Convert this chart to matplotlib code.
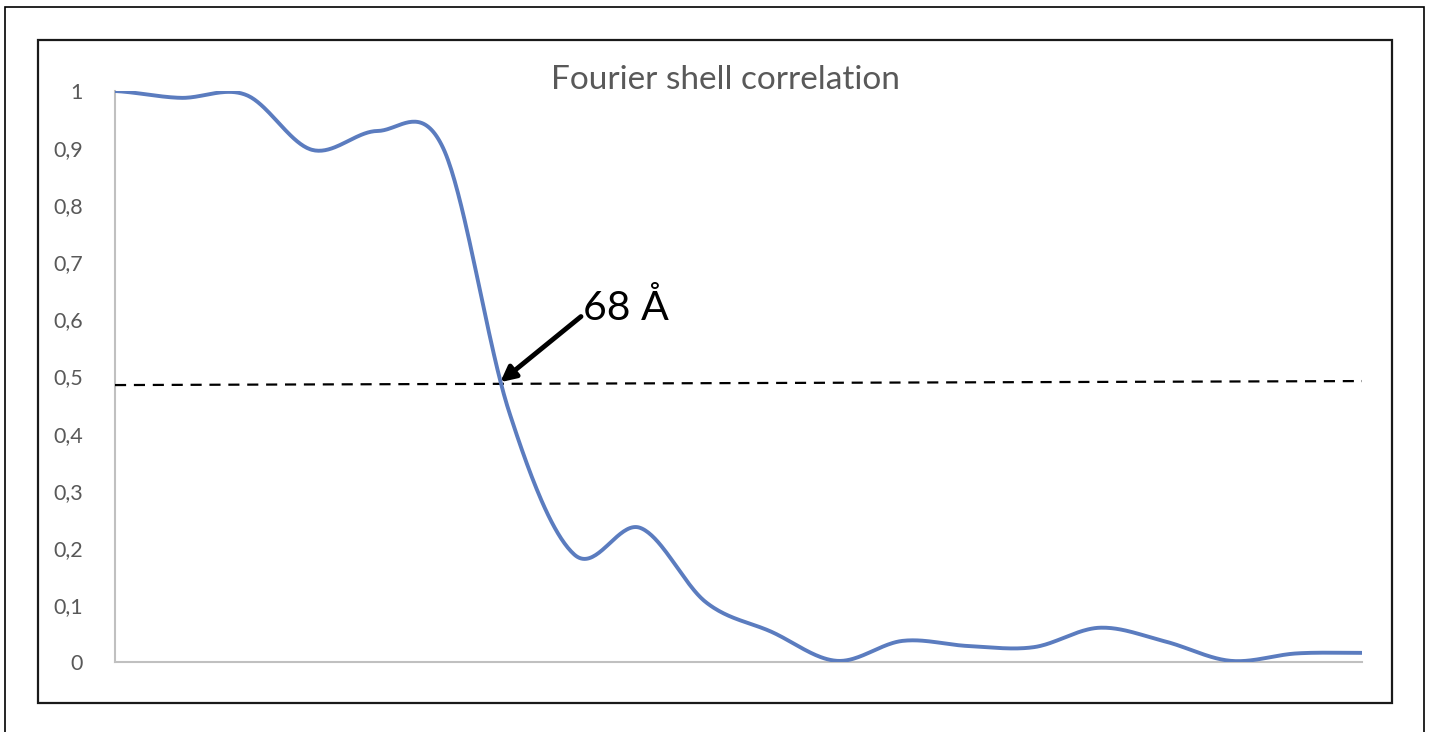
import numpy as np
import matplotlib.pyplot as plt
from matplotlib.patches import Rectangle

# FSC values per shell (equally spaced categories)
shell = np.arange(20)
fsc = [1.000, 0.988, 0.993, 0.897, 0.930, 0.900, 0.440, 0.188, 0.235, 0.105,
       0.053, 0.002, 0.037, 0.028, 0.026, 0.060, 0.036, 0.002, 0.015, 0.016]
threshold = [0.485, 0.492]
y_ticks = [0, 0.1, 0.2, 0.3, 0.4, 0.5, 0.6, 0.7, 0.8, 0.9, 1]
y_labels = ["0", "0,1", "0,2", "0,3", "0,4", "0,5", "0,6", "0,7", "0,8", "0,9", "1"]
cutoff_label = "68 Å"
cutoff_x, cutoff_y = 5.87, 0.49


def smooth(x, y, n=40):
    # Catmull-Rom style smoothing like a spreadsheet "smoothed line"
    x = np.asarray(x, float)
    y = np.asarray(y, float)
    yp = np.concatenate([[y[0]], y, [y[-1]]])
    xs, ys = [], []
    for i in range(len(x) - 1):
        p0, p1, p2, p3 = yp[i], yp[i + 1], yp[i + 2], yp[i + 3]
        m1 = (p2 - p0) / 2
        m2 = (p3 - p1) / 2
        t = np.linspace(0, 1, n, endpoint=False)
        h00 = 2 * t**3 - 3 * t**2 + 1
        h10 = t**3 - 2 * t**2 + t
        h01 = -2 * t**3 + 3 * t**2
        h11 = t**3 - t**2
        ys.append(h00 * p1 + h10 * m1 + h01 * p2 + h11 * m2)
        xs.append(x[i] + t * (x[i + 1] - x[i]))
    xs.append([x[-1]])
    ys.append([y[-1]])
    return np.concatenate(xs), np.concatenate(ys)


plt.rcParams['font.family'] = ['Lato', 'DejaVu Sans']
W, H = 1434, 732
fig = plt.figure(figsize=(W / 100, H / 100), dpi=100)
ax = fig.add_axes([115 / W, (H - 662) / H, (1362 - 115) / W, (662 - 91) / H])

sx, sy = smooth(shell, fsc)
ax.plot(sx, sy, color="#5b7cbf", lw=2.8, solid_capstyle="butt", zorder=3)
ax.plot([shell[0], shell[-1]], threshold, color="black", lw=1.6,
        dashes=(5, 3.5), zorder=2)

ax.set_xlim(shell[0], shell[-1])
ax.set_ylim(0, 1)
ax.set_xticks([])
ax.set_yticks(y_ticks)
ax.set_yticklabels(y_labels)
ax.tick_params(axis="y", length=0, pad=23, labelsize=15.5, labelcolor="#595959")
for s in ["top", "right"]:
    ax.spines[s].set_visible(False)
for s in ["left", "bottom"]:
    ax.spines[s].set_color("#c0c0c0")
    ax.spines[s].set_linewidth(1.5)
ax.spines["left"].set_zorder(1)

fig.text(725 / W, (H - 80) / H, "Fourier shell correlation", ha="center",
         va="center", fontsize=24, color="#595959")

ax.annotate("", xy=(cutoff_x, cutoff_y), xytext=(7.1, 0.605),
            arrowprops=dict(arrowstyle="-|>,head_length=0.9,head_width=0.45",
                            color="black", lw=3.5, shrinkA=0, shrinkB=0))
ax.text(7.13, 0.62, cutoff_label, ha="left", va="center", fontsize=29.5,
        color="black")

# framing boxes
fig.add_artist(Rectangle((38 / W, (H - 703) / H), (1392 - 38) / W, (703 - 40) / H,
                         transform=fig.transFigure, fill=False, lw=1.6,
                         edgecolor="#1a1a1a"))
fig.add_artist(Rectangle((5 / W, -0.05), (1424 - 5) / W, (H - 7) / H + 0.05,
                         transform=fig.transFigure, fill=False, lw=1.2,
                         edgecolor="black", clip_on=False))

fig.savefig("out.png", dpi=100)
